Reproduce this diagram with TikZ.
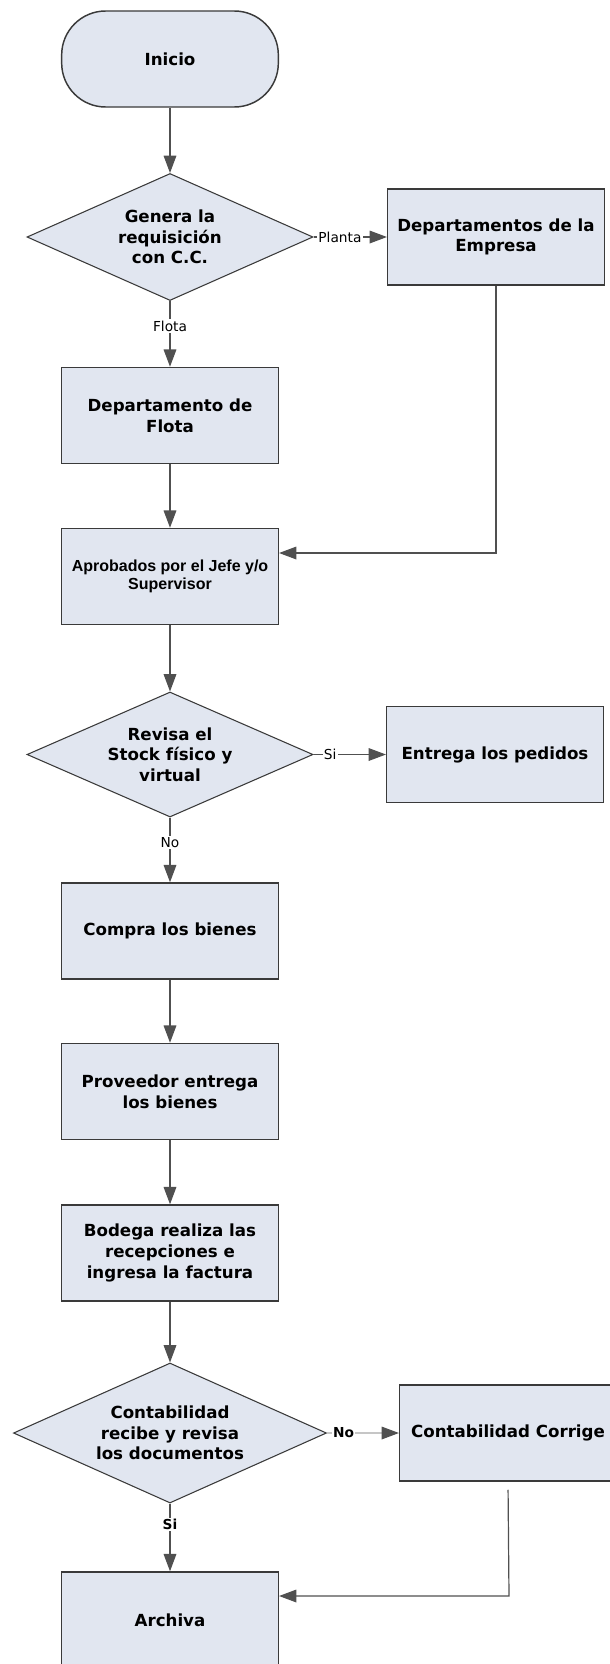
\documentclass[tikz,border=0pt]{standalone}
\usepackage{fontspec}
\setmainfont{DejaVu Sans}
\newfontfamily\narrowfont{Liberation Sans}
\usetikzlibrary{shapes.geometric,arrows.meta}

\definecolor{boxfill}{HTML}{E1E6F0}
\definecolor{boxline}{HTML}{3A3A3A}
\definecolor{linkgray}{HTML}{505050}

\tikzset{
  base/.style={draw=boxline, fill=boxfill, align=center, inner sep=0pt,
    font=\fontsize{12.5}{15.5}\selectfont\bfseries},
  proc/.style={base, rectangle, line width=1.1pt,
    minimum width=162.5pt, minimum height=72pt},
  term/.style={proc, rounded corners=33pt},
  decis/.style={base, diamond, line width=0.8pt, aspect=2.2},
  link/.style={draw=linkgray, line width=0.9pt,
    -{Triangle[length=13pt,width=9.5pt]}},
  faint/.style={link, draw=gray!45, -{Triangle[length=13pt,width=9.5pt,color=linkgray]}},
  lbl/.style={fill=white, inner sep=1pt, font=\fontsize{10.3}{12}\selectfont},
  lblb/.style={lbl, font=\fontsize{10.3}{12}\selectfont\bfseries},
}

\begin{document}
\begin{tikzpicture}[x=0.75pt, y=-0.75pt]
  \useasboundingbox (0,0) rectangle (610,1664);
  \fill[white] (0,0) rectangle (610,1664);
  \clip (0,0) rectangle (610,1664);

  % main column
  \node[term] (ini) at (170,59) {Inicio};
  \node[decis, minimum width=214.5pt, minimum height=95.25pt] (d1) at (170,237)
    {Genera la\\requisición\\con C.C.};
  \node[proc] (emp) at (496,237) {Departamentos de la\\Empresa};
  \node[proc] (flota) at (170,415.5) {Departamento de\\Flota};
  \node[proc, font=\narrowfont\fontsize{12}{13.5}\selectfont\bfseries] (aprob) at (170,576.5)
    {Aprobados por el Jefe y/o\\Supervisor};
  \node[decis, minimum width=214.5pt, minimum height=93.75pt] (d2) at (170,754.5)
    {Revisa el\\Stock físico y\\virtual};
  \node[proc] (entrega) at (495,754.5) {Entrega los pedidos};
  \node[proc] (compra) at (170,931) {Compra los bienes};
  \node[proc] (prov) at (170,1091.5) {Proveedor entrega\\los bienes};
  \node[proc] (bodega) at (170,1253) {Bodega realiza las\\recepciones e\\ingresa la factura};
  \node[decis, minimum width=234.75pt, minimum height=105pt] (d3) at (170,1433)
    {Contabilidad\\recibe y revisa\\los documentos};
  \node[proc] (cc) at (508,1433) {Contabilidad Corrige};
  \node[proc] (arch) at (170,1620) {Archiva};

  % connectors
  \draw[link] (ini) -- (d1);
  \draw[link] (d1) -- node[lbl, pos=0.36] {Planta} (emp);
  \draw[link] (d1) -- node[lbl, pos=0.38] {Flota} (flota);
  \draw[link] (flota) -- (aprob);
  \coordinate (j1) at (496,553);
  \draw[link] (emp.south) -- (j1) -- (j1 -| aprob.east);
  \draw[link] (aprob) -- (d2);
  \draw[link] (d2) -- node[lbl, pos=0.23] {Si} (entrega);
  \draw[link] (d2) -- node[lbl, pos=0.39] {No} (compra);
  \draw[link] (compra) -- (prov);
  \draw[link] (prov) -- (bodega);
  \draw[link] (bodega) -- (d3);
  \draw[faint] (d3) -- node[lblb, pos=0.23] {No} (cc);
  \draw[link] (d3) -- node[lblb, pos=0.31] {Si} (arch);
  \coordinate (j2) at (509,1596);
  \draw[link, shorten <=6pt] (cc.south) -- (j2) -- (j2 -| arch.east);
\end{tikzpicture}
\end{document}
